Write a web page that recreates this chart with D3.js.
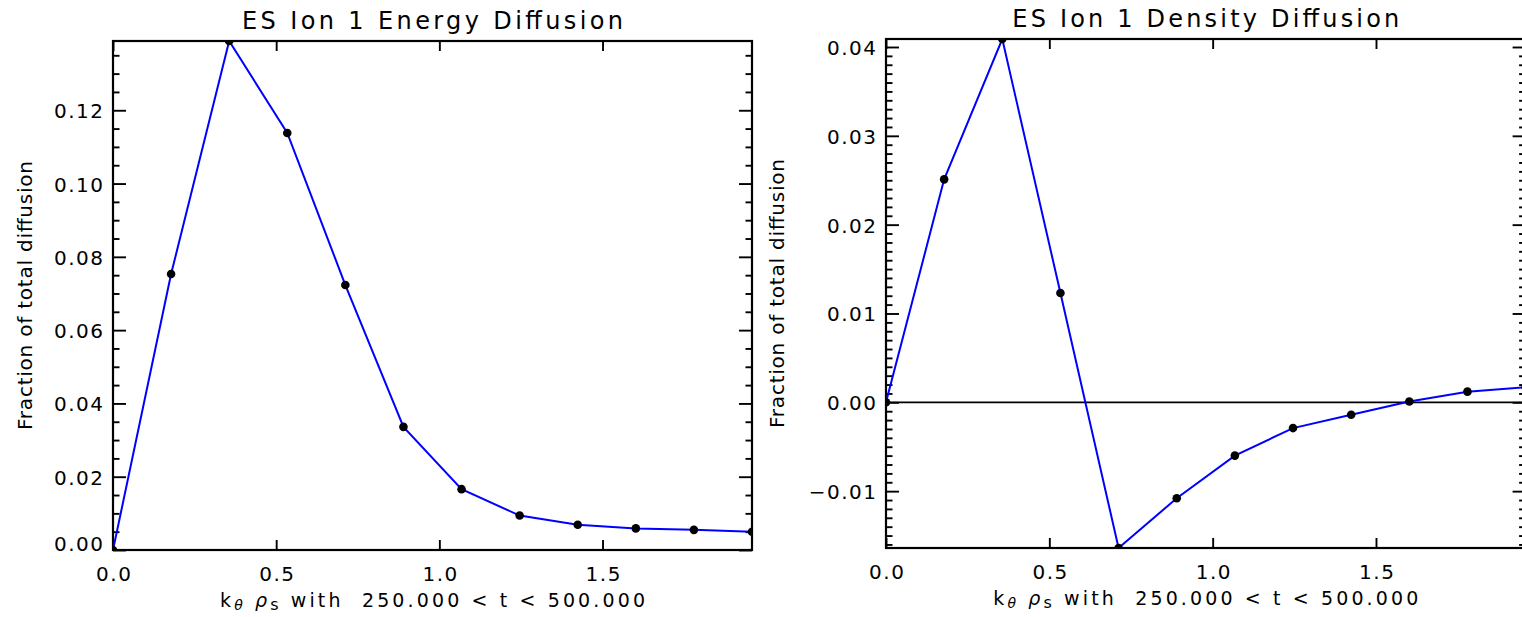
<!DOCTYPE html>
<html>
<head>
<meta charset="utf-8">
<script src="https://cdn.jsdelivr.net/npm/d3@7"></script>
<style>
    body { margin: 0; background: #fff; }
    svg { display: block; }
    text { font-family: "DejaVu Sans", Verdana, sans-serif; fill: #000; }
</style>
</head>
<body>
<div id="grafico"></div>
<script>
// valores (k_theta rho_s de 0 a 1.958, passo 0.178)
const kyRhoS = [0.000, 0.178, 0.356, 0.534, 0.712, 0.890, 1.068, 1.246, 1.424, 1.602, 1.780, 1.958];
const difusaoEnergia = [0.0000, 0.0753, 0.1389, 0.1138, 0.0723, 0.0336, 0.0166, 0.0094, 0.0069, 0.0059, 0.0055, 0.0050];
const difusaoDensidade = [0.0000, 0.0251, 0.0409, 0.0123, -0.0164, -0.0108, -0.0060, -0.0029, -0.0014, 0.0001, 0.0012, 0.0017];

const titulos = ["ES Ion 1 Energy Diffusion", "ES Ion 1 Density Diffusion"];
const tituloY = "Fraction of total diffusion";
const ticksX = [0.0, 0.5, 1.0, 1.5];

const largura = 1522;
const altura = 617;

const svg = d3.select("#grafico").append("svg")
    .attr("width", largura)
    .attr("height", altura);

svg.append("rect")
    .attr("width", largura)
    .attr("height", altura)
    .attr("fill", "#fff");

// gera valores de tick em múltiplos de passo (evita erro de ponto flutuante)
function multiplos(min, max, passo) {
    const lista = [];
    for (let i = Math.ceil(min / passo - 1e-6); i <= Math.floor(max / passo + 1e-6); i++) {
        lista.push(+(i * passo).toFixed(6));
    }
    return lista;
}

function desenharPainel(cfg) {
    const pontos = kyRhoS.map((k, i) => ({ x: k, y: cfg.valores[i] }));

    const x = d3.scaleLinear()
        .domain(d3.extent(kyRhoS))
        .range([cfg.esquerda, cfg.direita]);

    const y = d3.scaleLinear()
        .domain(d3.extent(cfg.valores))
        .range([cfg.baixo, cfg.topo]);

    const [yMin, yMax] = y.domain();
    const maiores = multiplos(yMin, yMax, cfg.passoMaior);
    const menores = multiplos(yMin, yMax, cfg.passoMenor).filter(v => !maiores.some(m => Math.abs(m - v) < 1e-9));

    const g = svg.append("g");
    const espacoLetra = 1.5;

    // eixo y esquerdo com rótulos
    const eixoY = g.append("g")
        .attr("transform", `translate(${cfg.esquerda},0)`)
        .call(d3.axisLeft(y).tickValues(maiores).tickSizeInner(-13).tickSizeOuter(0)
            .tickPadding(10).tickFormat(d3.format(".2f")));
    eixoY.select(".domain").remove();
    eixoY.selectAll("text")
        .attr("dy", null)
        .attr("dx", espacoLetra)
        .attr("y", d => Math.min(7.5, cfg.baixo - y(d)))
        .style("font-size", "20px")
        .style("letter-spacing", espacoLetra + "px");

    g.append("g")
        .attr("transform", `translate(${cfg.esquerda},0)`)
        .call(d3.axisLeft(y).tickValues(menores).tickSize(-6.5).tickFormat(""))
        .select(".domain").remove();

    // eixo y direito, só ticks
    g.append("g")
        .attr("transform", `translate(${cfg.direita},0)`)
        .call(d3.axisRight(y).tickValues(maiores).tickSize(-13).tickFormat(""))
        .select(".domain").remove();
    g.append("g")
        .attr("transform", `translate(${cfg.direita},0)`)
        .call(d3.axisRight(y).tickValues(menores).tickSize(-6.5).tickFormat(""))
        .select(".domain").remove();

    // eixo x embaixo com rótulos e em cima só ticks
    const eixoX = g.append("g")
        .attr("transform", `translate(0,${cfg.baixo})`)
        .call(d3.axisBottom(x).tickValues(ticksX).tickSizeInner(-10).tickSizeOuter(0)
            .tickFormat(d3.format(".1f")));
    eixoX.select(".domain").remove();
    eixoX.selectAll("text")
        .attr("dy", null)
        .attr("y", 31)
        .attr("dx", espacoLetra / 2)
        .style("font-size", "20px")
        .style("letter-spacing", espacoLetra + "px");

    g.append("g")
        .attr("transform", `translate(0,${cfg.topo})`)
        .call(d3.axisTop(x).tickValues(ticksX).tickSize(-10).tickFormat(""))
        .select(".domain").remove();

    g.selectAll(".tick line").attr("stroke", "#000").attr("stroke-width", 1.9);
    g.selectAll(".tick text").attr("fill", "#000");

    // moldura do gráfico
    g.append("rect")
        .attr("x", cfg.esquerda)
        .attr("y", cfg.topo)
        .attr("width", cfg.direita - cfg.esquerda)
        .attr("height", cfg.baixo - cfg.topo)
        .attr("fill", "none")
        .attr("stroke", "#000")
        .attr("stroke-width", 2.2);

    // linha do zero quando o eixo passa por valores negativos
    if (yMin < 0) {
        g.append("line")
            .attr("x1", cfg.esquerda)
            .attr("x2", cfg.direita)
            .attr("y1", y(0))
            .attr("y2", y(0))
            .attr("stroke", "#000")
            .attr("stroke-width", 1.8);
    }

    // recorte para a área do gráfico
    const idClip = "clip" + cfg.id;
    svg.append("clipPath").attr("id", idClip)
        .append("rect")
        .attr("x", cfg.esquerda)
        .attr("y", cfg.topo)
        .attr("width", cfg.direita - cfg.esquerda)
        .attr("height", cfg.baixo - cfg.topo);

    const dados = g.append("g").attr("clip-path", `url(#${idClip})`);

    dados.append("path")
        .datum(pontos)
        .attr("fill", "none")
        .attr("stroke", "#0000ff")
        .attr("stroke-width", 2)
        .attr("d", d3.line().x(d => x(d.x)).y(d => y(d.y)));

    dados.selectAll("circle")
        .data(pontos)
        .join("circle")
        .attr("cx", d => x(d.x))
        .attr("cy", d => y(d.y))
        .attr("r", 4.3)
        .attr("fill", "#000");

    const centroX = (cfg.esquerda + cfg.direita) / 2;
    const centroY = (cfg.topo + cfg.baixo) / 2;

    // título
    g.append("text")
        .attr("x", centroX)
        .attr("y", cfg.topo - 12)
        .attr("text-anchor", "middle")
        .attr("textLength", cfg.larguraTitulo)
        .attr("lengthAdjust", "spacing")
        .style("font-size", "24px")
        .text(cfg.titulo);

    // título do eixo x com subscritos
    const tx = g.append("text")
        .attr("x", centroX)
        .attr("y", cfg.baixo + 57)
        .attr("text-anchor", "middle")
        .attr("textLength", 425)
        .attr("lengthAdjust", "spacing")
        .style("font-size", "19px");
    tx.append("tspan").text("k");
    tx.append("tspan").attr("dy", 3).style("font-size", "14px").style("font-style", "italic").text("θ");
    tx.append("tspan").attr("dy", -3).text(" ");
    tx.append("tspan").style("font-style", "italic").text("ρ");
    tx.append("tspan").attr("dy", 3).style("font-size", "16px").text("s");
    tx.append("tspan").attr("dy", -3).text(" with\u00a0 250.000 < t < 500.000");

    // título do eixo y
    g.append("text")
        .attr("transform", `translate(${cfg.xTituloY},${centroY}) rotate(-90)`)
        .attr("text-anchor", "middle")
        .attr("textLength", 269)
        .attr("lengthAdjust", "spacing")
        .style("font-size", "20px")
        .text(tituloY);
}

desenharPainel({
    id: 1,
    titulo: titulos[0],
    valores: difusaoEnergia,
    esquerda: 113, direita: 752, topo: 41, baixo: 550,
    passoMaior: 0.02, passoMenor: 0.005,
    larguraTitulo: 381,
    xTituloY: 32
});

desenharPainel({
    id: 2,
    titulo: titulos[1],
    valores: difusaoDensidade,
    esquerda: 886, direita: 1525.6, topo: 39, baixo: 548,
    passoMaior: 0.01, passoMenor: 0.001,
    larguraTitulo: 387,
    xTituloY: 784
});
</script>
</body>
</html>
